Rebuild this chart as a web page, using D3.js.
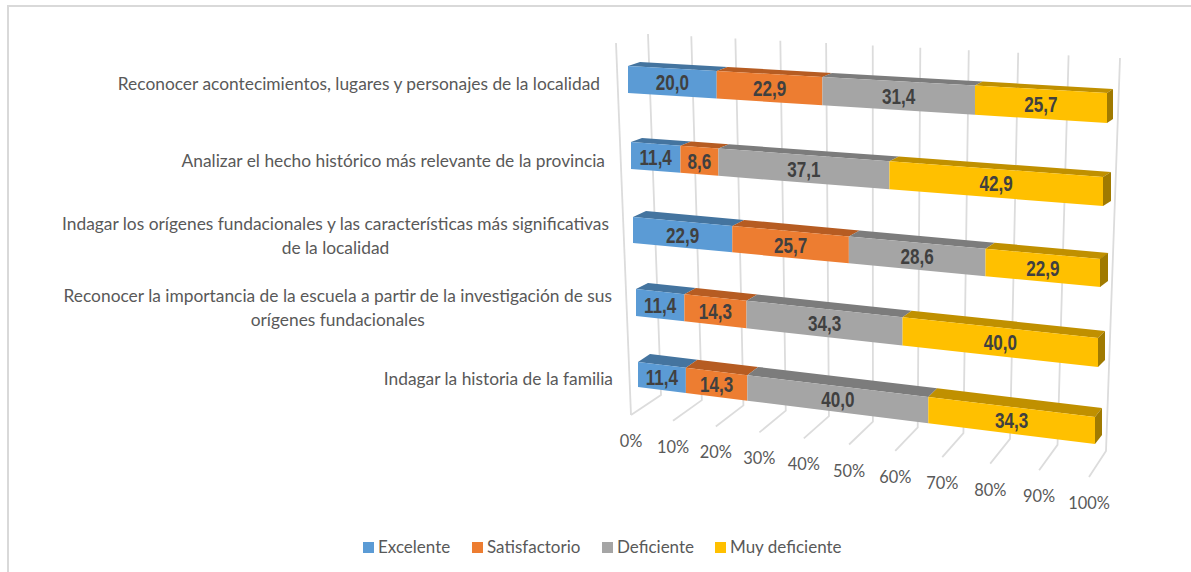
<!DOCTYPE html>
<html lang="es">
<head>
  <meta charset="UTF-8">
  <title>Barras apiladas 100% en perspectiva</title>
  <script src="https://d3js.org/d3.v7.min.js"></script>
  <style>
    html, body {
      margin: 0;
      padding: 0;
      background: #fff;
      overflow: hidden;
    }

    svg {
      display: block;
    }

    .cat, .tick, .legend {
      font-family: Lato, "Open Sans", sans-serif;
      fill: #595959;
    }

    .cat { font-size: 17.35px; }
    .tick { font-size: 16.4px; }
    .legend { font-size: 17px; }

    .value {
      font-family: "Liberation Sans", sans-serif;
      font-size: 22.5px;
      font-weight: bold;
      fill: #404040;
      text-anchor: middle;
    }
  </style>
</head>
<body>

<svg width="1191" height="572"></svg>

<script>
  // Data, top row first
  const categories = [
    ["Reconocer acontecimientos, lugares y personajes de la localidad"],
    ["Analizar el hecho histórico más relevante de la provincia"],
    ["Indagar los orígenes fundacionales y las características más significativas", "de la localidad"],
    ["Reconocer la importancia de la escuela a partir de la investigación de sus", "orígenes fundacionales"],
    ["Indagar la historia de la familia"]
  ];
  const seriesNames = ["Excelente", "Satisfactorio", "Deficiente", "Muy deficiente"];
  const excelente = [20.0, 11.4, 22.9, 11.4, 11.4];
  const satisfactorio = [22.9, 8.6, 25.7, 14.3, 14.3];
  const deficiente = [31.4, 37.1, 28.6, 34.3, 40.0];
  const muyDeficiente = [25.7, 42.9, 22.9, 40.0, 34.3];
  const ticks = [0, 10, 20, 30, 40, 50, 60, 70, 80, 90, 100];

  const frontColors = ["#5b9bd5", "#ed7d31", "#a5a5a5", "#ffc000"];
  const topColors = ["#44749f", "#b65c22", "#7c7c7c", "#c09000"];
  const sideColor = "#a07a00";

  const svg = d3.select("svg");

  const rows = categories.map((c, i) => ({
    [seriesNames[0]]: excelente[i],
    [seriesNames[1]]: satisfactorio[i],
    [seriesNames[2]]: deficiente[i],
    [seriesNames[3]]: muyDeficiente[i]
  }));
  const stacked = d3.stack().keys(seriesNames)(rows);

  // Perspective along the value axis: far end of the chart is drawn bigger
  const t = d3.scaleLinear().domain([0, 100]).range([0, 1]);
  const persp = v => { const a = t(v); return a / (a + 1.1 * (1 - a)); };
  const along = (a, b, v) => d3.interpolateNumber(a, b)(persp(v));

  // Bar geometry as it changes from the top row to the bottom one
  const rowIdx = [0, 1, 2, 3, 4];
  const rowScale = r => d3.scaleLinear().domain(rowIdx).range(r);
  const geo = {
    lx: rowScale([628, 631, 633, 636, 638]),
    lt: rowScale([66, 142, 217, 289, 362]),
    lb: rowScale([93, 169, 243, 316, 387]),
    rx: rowScale([1107, 1103, 1100, 1098, 1095]),
    rt: rowScale([93, 177, 259, 338, 417]),
    rb: rowScale([123, 206, 287, 367, 444]),
    ldx: rowScale([12, 11, 13, 12, 12]),
    ldy: rowScale([-4, -4, -6, -6, -8]),
    rdx: rowScale([6, 8, 8, 7, 7]),
    rdy: rowScale([-4, -5, -6, -7, -9])
  };

  const frontTop = (v, r) => [along(geo.lx(r), geo.rx(r), v), along(geo.lt(r), geo.rt(r), v)];
  const frontBot = (v, r) => [along(geo.lx(r), geo.rx(r), v), along(geo.lb(r), geo.rb(r), v)];
  const backTop = (v, r) => [
    along(geo.lx(r) + geo.ldx(r), geo.rx(r) + geo.rdx(r), v),
    along(geo.lt(r) + geo.ldy(r), geo.rt(r) + geo.rdy(r), v)
  ];
  const poly = pts => pts.map(p => p.join(",")).join(" ");

  // Frame
  svg.append("path")
    .attr("d", "M8,572V6H1191")
    .attr("fill", "none")
    .attr("stroke", "#d9d9d9")
    .attr("stroke-width", 2);

  // Walls and floor
  const grid = svg.append("g")
    .attr("stroke", "#dcdcdc")
    .attr("stroke-width", 1.8)
    .attr("fill", "none");

  const wallTop = v => [along(648, 1120, v), along(34, 58, v)];
  const wallBot = v => [along(661, 1106, v), along(395, 451, v)];
  const floorFront = v => [along(631, 1089, v), along(415, 477, v)];

  grid.selectAll("polyline")
    .data(ticks)
    .join("polyline")
    .attr("points", d => poly([wallTop(d), wallBot(d), floorFront(d)]));

  grid.append("line")
    .attr("x1", 616).attr("y1", 43)
    .attr("x2", floorFront(0)[0]).attr("y2", floorFront(0)[1]);

  svg.append("g").selectAll("text")
    .data(ticks)
    .join("text")
    .attr("class", "tick")
    .attr("text-anchor", "middle")
    .attr("x", d => floorFront(d)[0])
    .attr("y", d => floorFront(d)[1] + 32)
    .text(d => d + "%");

  // Bars
  const bars = svg.append("g");

  stacked.forEach((layer, s) => {
    const g = bars.append("g");

    g.selectAll(".top")
      .data(layer)
      .join("polygon")
      .attr("class", "top")
      .attr("fill", topColors[s])
      .attr("points", (d, r) => poly([frontTop(d[0], r), backTop(d[0], r), backTop(d[1], r), frontTop(d[1], r)]));

    g.selectAll(".front")
      .data(layer)
      .join("polygon")
      .attr("class", "front")
      .attr("fill", frontColors[s])
      .attr("points", (d, r) => poly([frontTop(d[0], r), frontTop(d[1], r), frontBot(d[1], r), frontBot(d[0], r)]));

    if (s === stacked.length - 1) {
      g.selectAll(".side")
        .data(layer)
        .join("polygon")
        .attr("class", "side")
        .attr("fill", sideColor)
        .attr("points", (d, r) => {
          const a = frontTop(100, r), b = backTop(100, r), c = frontBot(100, r);
          return poly([a, b, [b[0], b[1] + c[1] - a[1]], c]);
        });
    }
  });

  // Value labels sit on the middle of each front face, squeezed to look narrow
  stacked.forEach(layer => {
    svg.append("g").selectAll("text")
      .data(layer)
      .join("text")
      .attr("class", "value")
      .attr("dy", "0.35em")
      .attr("transform", (d, r) => {
        const x = (frontTop(d[0], r)[0] + frontTop(d[1], r)[0]) / 2;
        const y = (frontTop(d[0], r)[1] + frontBot(d[1], r)[1]) / 2;
        return `translate(${x},${y}) scale(0.76,1)`;
      })
      .text(d => (d[1] - d[0]).toFixed(1).replace(".", ","));
  });

  // Category labels: first line ends near the bar, second is centred under it
  const labelRight = [600, 605, 609, 612, 613];
  const labelY = [83.5, 160.5, 224, 296, 379];

  categories.forEach((lines, i) => {
    const first = svg.append("text")
      .attr("class", "cat")
      .attr("text-anchor", "end")
      .attr("x", labelRight[i])
      .attr("y", labelY[i])
      .attr("dy", "0.35em")
      .text(lines[0]);
    if (lines.length > 1) {
      const w = first.node().getComputedTextLength();
      svg.append("text")
        .attr("class", "cat")
        .attr("text-anchor", "middle")
        .attr("x", labelRight[i] - w / 2)
        .attr("y", labelY[i] + 23.5)
        .attr("dy", "0.35em")
        .text(lines[1]);
    }
  });

  // Legend
  const legendX = [363, 472, 602, 715];
  const legend = svg.append("g").selectAll("g")
    .data(seriesNames)
    .join("g")
    .attr("transform", (d, i) => `translate(${legendX[i]},542)`);

  legend.append("rect")
    .attr("width", 11)
    .attr("height", 11)
    .attr("fill", (d, i) => frontColors[i]);

  legend.append("text")
    .attr("class", "legend")
    .attr("x", 15)
    .attr("y", 5)
    .attr("dy", "0.35em")
    .text(d => d);
</script>

</body>
</html>
